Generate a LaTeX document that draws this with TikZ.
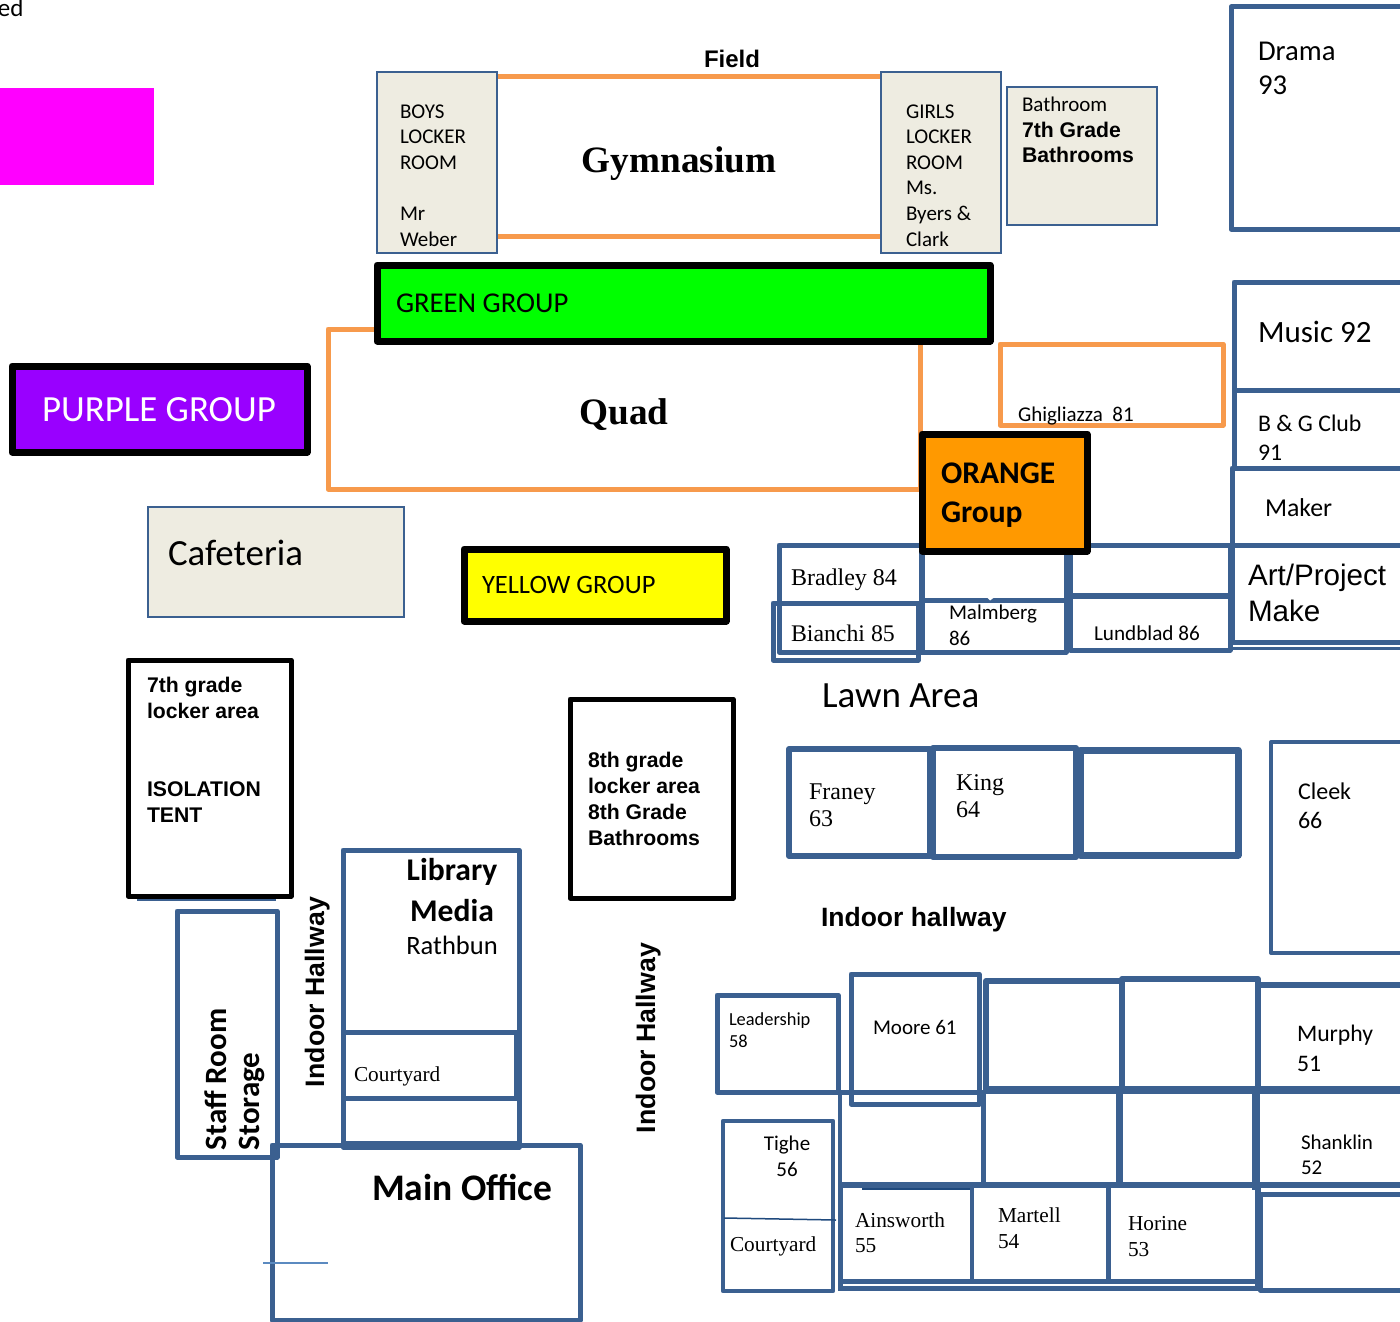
\documentclass[tikz,border=0pt]{standalone}
\usepackage{fontspec}
\setmainfont{Carlito}
\newfontfamily\arialf{Liberation Sans}
\newfontfamily\timesf{Liberation Serif}
\definecolor{roomblue}{HTML}{3B6090}
\definecolor{gymorange}{HTML}{F79A4C}
\definecolor{lockerfill}{HTML}{EEECE1}
\definecolor{thinblue}{HTML}{1F497D}
\definecolor{tickblue}{HTML}{5B8AC0}
\definecolor{pinkfill}{HTML}{FF00FF}
\definecolor{greenfill}{HTML}{00FF00}
\definecolor{purplefill}{HTML}{9900FF}
\definecolor{yellowfill}{HTML}{FFFF00}
\definecolor{orangefill}{HTML}{FF9900}
\newcommand{\fs}[2]{\fontsize{#1}{#2}\selectfont}
\tikzset{
  room/.style={draw=roomblue,line width=5pt,line join=round},
  wall/.style={draw=roomblue,line width=5pt,line cap=round},
  orangebox/.style={draw=gymorange,line width=5pt,line join=round},
  panel/.style={draw=roomblue,line width=1.8pt,fill=lockerfill},
  groupbox/.style={draw=black,line width=7pt,line join=round},
  blackroom/.style={draw=black,line width=5pt,line join=round},
  txt/.style={anchor=base west,inner sep=0pt,outer sep=0pt,align=left},
  mid/.style={anchor=base,inner sep=0pt,outer sep=0pt,align=center},
  vert/.style={anchor=base west,inner sep=0pt,outer sep=0pt,rotate=90,align=left},
}
\begin{document}
\begin{tikzpicture}[x=1pt,y=-1pt]
\useasboundingbox (0,0) rectangle (1400,1322);
\fill[white] (0,0) rectangle (1400,1322);
% top left remnants
\node[txt,font=\fs{25}{30}] (ed) at (-2,17) {ed};
\fill[pinkfill] (0,88) rectangle (154,185);
% gymnasium
\draw[gymorange,line width=5pt] (497,77) -- (880,77);
\draw[gymorange,line width=5pt] (497,236) -- (880,236);
\draw[panel] (377,72) rectangle (497,253);
\draw[panel] (881,72) rectangle (1001,253);
\draw[panel] (1007,87) rectangle (1157,225);
\node[mid,font=\arialf\bfseries\fs{24}{28}] (field) at (732,67) {Field};
\node[mid,font=\timesf\bfseries\fs{37.2}{44}] (gym) at (679,172) {Gymnasium};
\node[txt,font=\fs{21}{25.6}] (boys) at (400,246) {BOYS\\LOCKER\\ROOM\\ \\Mr\\Weber};
\node[txt,font=\fs{21}{25.6}] (girls) at (906,246) {GIRLS\\LOCKER\\ROOM\\Ms.\\Byers \&\\Clark};
\node[txt,font=\fs{21}{25}] (bath) at (1022,111) {Bathroom};
\node[txt,font=\arialf\bfseries\fs{21.2}{25}] (bath7) at (1022,162) {7th Grade\\Bathrooms};
% right column
\draw[room] (1231,7) rectangle (1420,229);
\node[txt,font=\fs{28.7}{35}] (drama) at (1258,95) {Drama\\93};
\draw[room] (1234,282) rectangle (1420,390);
\node[txt,font=\fs{31}{36}] (music) at (1258,342) {Music 92};
\draw[room] (1234,390) rectangle (1420,468);
\node[txt,font=\fs{23.8}{29}] (bg) at (1258,460) {B \& G Club\\91};
\draw[room] (1232,468) rectangle (1420,545);
\node[txt,font=\fs{25.8}{30}] (maker) at (1265,516) {Maker};
\draw[room] (1232,545) rectangle (1420,642);
\draw[room,line width=3pt] (1232,648) -- (1420,648);
\node[txt,font=\arialf\fs{29.6}{36}] (art) at (1248,621) {Art/Project\\Make};
% quad and groups
\draw[orangebox] (328,329) rectangle (920,489);
\draw[orangebox] (1000,344) rectangle (1223,425);
\node[txt,font=\fs{21}{24}] (ghig) at (1018,421) {Ghigliazza\ \ 81};
\node[mid,font=\timesf\bfseries\fs{37.3}{44}] (quad) at (624,424) {Quad};
\draw[groupbox,fill=greenfill] (377,265) rectangle (990,341);
\node[txt,font=\fs{28.7}{34}] (green) at (396,312) {GREEN GROUP};
\draw[groupbox,fill=purplefill] (12,366) rectangle (307,452);
\node[txt,font=\fs{36.9}{42},text=white] (purple) at (42,421) {PURPLE GROUP};
\draw[panel] (148,507) rectangle (404,617);
\node[txt,font=\fs{36.9}{42}] (cafe) at (168,565) {Cafeteria};
\draw[groupbox,fill=yellowfill] (464,549) rectangle (726,621);
\node[txt,font=\fs{26.5}{32}] (yellow) at (482,593) {YELLOW GROUP};
% 80s rooms
\draw[room] (779,545) rectangle (921,652);
\draw[room] (773,603) rectangle (918,660);
\draw[room] (922,545) rectangle (1066,652);
\draw[wall,line cap=butt] (922,600) -- (1066,600);
\fill[white] (987,597.5) -- (994,597.5) -- (990,600.5) -- cycle;
\draw[room] (1070,545) rectangle (1230,650);
\draw[wall,line cap=butt,line width=6pt] (1070,596) -- (1230,596);
\draw[wall,line cap=butt] (779,545) -- (1232,545);
\draw[groupbox,fill=orangefill] (922,434) rectangle (1087,551);
\node[txt,font=\bfseries\fs{31.5}{39}] (orange) at (941,522) {ORANGE\\Group};
\node[txt,font=\timesf\fs{24}{30}] (bradley) at (791,585) {Bradley 84};
\node[txt,font=\timesf\fs{23.8}{30}] (bianchi) at (791,641) {Bianchi 85};
\node[txt,font=\fs{21}{26}] (malm) at (949,645) {Malmberg\\86};
\node[txt,font=\fs{21.2}{24}] (lund) at (1094,640) {Lundblad 86};
\node[txt,font=\fs{37}{40}] (lawn) at (822,707) {Lawn Area};
% lockers
\draw[roomblue,line width=3pt] (137,899) -- (276,899);
\draw[blackroom] (128,660) rectangle (291,896);
\node[txt,font=\arialf\bfseries\fs{21.2}{26}] (lock7) at (147,822) {7th grade\\locker area\\ \\ \\ISOLATION\\TENT};
\draw[blackroom] (570,699) rectangle (733,898);
\node[txt,font=\arialf\bfseries\fs{21.2}{26}] (lock8) at (588,845) {8th grade\\locker area\\8th Grade\\Bathrooms};
% 60s row
\draw[room,line width=6pt] (789,749) rectangle (930,856);
\draw[room,line width=6pt] (933,748) rectangle (1076,857);
\draw[room,line width=7pt] (1080,750) rectangle (1238,855);
\draw[room,line width=4pt] (1271,742) rectangle (1420,953);
\node[txt,font=\timesf\fs{24}{27}] (franey) at (809,826) {Franey\\63};
\node[txt,font=\timesf\fs{24}{27}] (king) at (956,817) {King\\64};
\node[txt,font=\fs{24}{29}] (cleek) at (1298,828) {Cleek\\66};
\node[txt,font=\arialf\bfseries\fs{26.5}{30}] (indoor) at (821,926) {Indoor hallway};
% left wing
\draw[room] (177,911) rectangle (277,1157);
\node[vert,font=\bfseries\fs{31}{33}] (staff) at (259,1150) {Staff Room\\Storage};
\node[vert,font=\arialf\bfseries\fs{26.7}{30}] (hall1) at (324,1087) {Indoor Hallway};
\node[vert,font=\arialf\bfseries\fs{26.7}{30}] (hall2) at (655,1133) {Indoor Hallway};
\draw[room] (343,850) rectangle (519,1147);
\draw[wall,line cap=butt] (343,1032) -- (519,1032);
\draw[wall,line cap=butt] (343,1098) -- (519,1098);
\draw[wall,line cap=butt] (516,1032) -- (516,1098);
\node[mid,font=\bfseries\fs{31.6}{41}] (lib) at (452,921) {Library\\Media};
\node[mid,font=\fs{26.5}{30}] (rath) at (452,954) {Rathbun};
\node[txt,font=\timesf\fs{21.3}{26}] (court1) at (354,1081) {Courtyard};
\draw[room] (272,1145) rectangle (580,1320);
\draw[wall,line cap=butt,line width=8pt] (343,1145) -- (519,1145);
\draw[tickblue,line width=1.6pt] (263,1263) -- (328,1263);
\node[txt,font=\bfseries\fs{37.5}{44}] (office) at (372,1200) {Main Office};
% 50s block
\draw[room,line width=6pt] (986,981) rectangle (1122,1090);
\draw[room,line width=6pt] (1122,979) rectangle (1258,1090);
\draw[room,line width=6pt] (1258,985) rectangle (1420,1090);
\draw[wall,line cap=butt,line width=8pt] (986,1090) -- (1420,1090);
\draw[wall,line cap=butt] (838,1092) -- (986,1092);
\draw[room,line width=5pt] (717,995) rectangle (838,1092);
\draw[room] (851,974) rectangle (979,1104);
\draw[wall,line cap=butt,line width=4pt] (840,1092) -- (840,1187);
\draw[wall,line cap=butt] (983,1092) -- (983,1187);
\draw[wall,line cap=butt,line width=7pt] (1119,1092) -- (1119,1187);
\draw[wall,line cap=butt,line width=8pt] (1256,1092) -- (1256,1190);
\draw[wall,line cap=butt,line width=6pt] (838,1185) -- (1400,1185);
\draw[room] (1260,1194) rectangle (1420,1290);
\draw[wall,line cap=butt] (840,1185) -- (840,1288);
\draw[wall,line cap=butt,line width=4pt] (972,1187) -- (972,1282);
\draw[wall,line cap=butt,line width=5pt] (1108,1187) -- (1108,1282);
\draw[wall,line cap=butt,line width=6pt] (1258,1187) -- (1258,1288);
\draw[wall,line cap=butt] (840,1281) -- (1258,1281);
\draw[wall,line cap=butt] (838,1288) -- (1258,1288);
\draw[thinblue,line width=1.5pt] (862,1189) -- (970,1189);
\draw[room,line width=4.5pt] (723,1121) rectangle (833,1291);
\draw[thinblue,line width=1.5pt] (724,1218) -- (836,1220);
\node[txt,font=\fs{18.4}{22}] (lead) at (729,1047) {Leadership\\58};
\node[txt,font=\fs{21}{25}] (moore) at (873,1034) {Moore 61};
\node[txt,font=\fs{23.7}{30}] (murphy) at (1297,1071) {Murphy\\51};
\node[txt,font=\fs{21}{25}] (shank) at (1301,1174) {Shanklin\\52};
\node[mid,font=\fs{21}{26}] (tighe) at (787,1176) {Tighe\\56};
\node[txt,font=\timesf\fs{21.3}{26}] (court2) at (730,1251) {Courtyard};
\node[txt,font=\timesf\fs{21.3}{25}] (ains) at (855,1252) {Ainsworth\\55};
\node[txt,font=\timesf\fs{21.3}{26}] (mart) at (998,1248) {Martell\\54};
\node[txt,font=\timesf\fs{21.3}{26}] (hor) at (1128,1256) {Horine\\53};
\end{tikzpicture}
\end{document}
